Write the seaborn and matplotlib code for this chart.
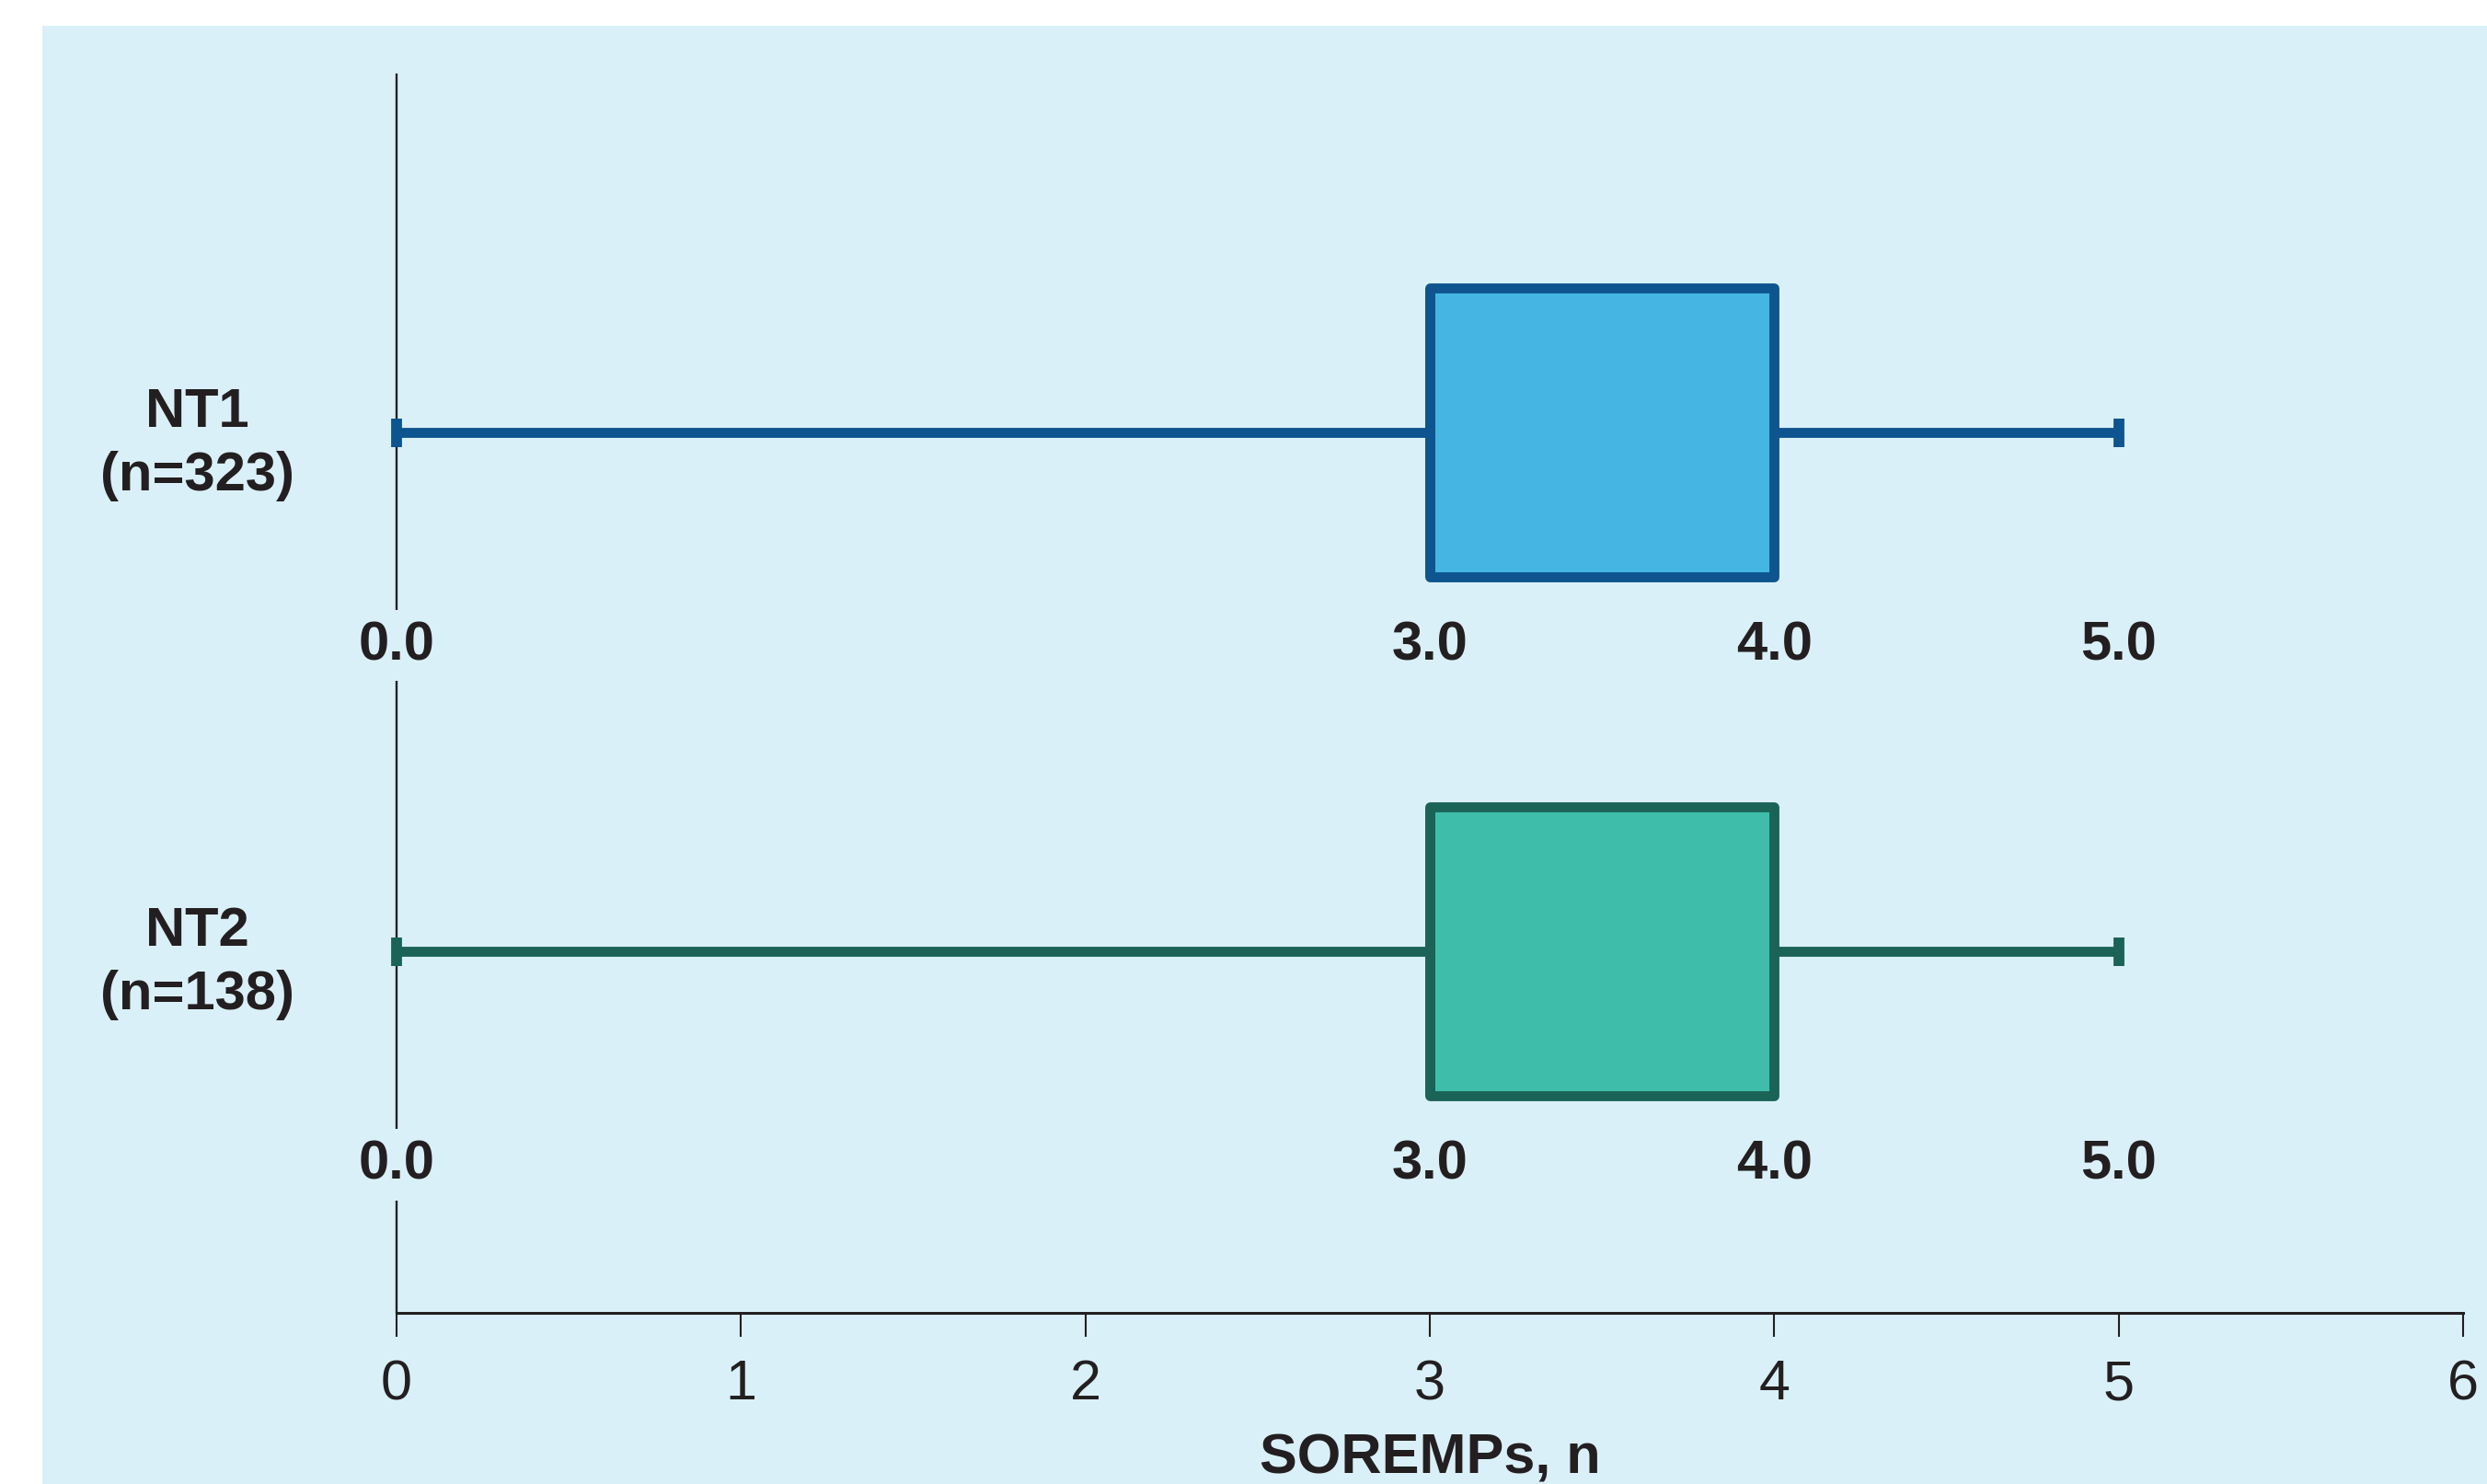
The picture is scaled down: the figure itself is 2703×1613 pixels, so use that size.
import pandas as pd
import matplotlib.pyplot as plt
import matplotlib.patches as mpatches
import seaborn as sns

# groups and SOREMP counts (five-number summary reproduced by small samples)
groups = ["NT1\n(n=323)", "NT2\n(n=138)"]
nt1_values = [0, 3, 3, 3, 4, 4, 5]
nt2_values = [0, 3, 3, 3, 4, 4, 5]
value_labels = [0.0, 3.0, 4.0, 5.0]
x_ticks = [0, 1, 2, 3, 4, 5, 6]

fill_colors = ["#45B6E4", "#3FBDAB"]
edge_colors = ["#0E548E", "#1A6356"]
bg_color = "#DAF0F8"
text_color = "#231F20"

sns.set_style("white")
plt.rcParams['font.family'] = ['Liberation Sans', 'DejaVu Sans']

df = pd.DataFrame({
    "group": [groups[0]] * len(nt1_values) + [groups[1]] * len(nt2_values),
    "sorempts": nt1_values + nt2_values,
})

fig = plt.figure(figsize=(27.03, 16.13), dpi=100)
fig.patch.set_facecolor("white")
fig.patches.append(mpatches.Rectangle((46 / 2703, 0), 1, 1 - 28 / 1613,
                                      transform=fig.transFigure,
                                      facecolor=bg_color, edgecolor="none",
                                      zorder=-5))
ax = fig.add_axes([431 / 2703, 1 - 1427 / 1613, (2677 - 431) / 2703,
                   (1427 - 81) / 1613])
ax.set_facecolor("none")
ax.set_zorder(2)

for i, g in enumerate(groups):
    sns.boxplot(data=df[df["group"] == g], x="sorempts", y="group", order=groups,
                orient="h", whis=(0, 100), width=0.557, saturation=1,
                color=fill_colors[i], linecolor=edge_colors[i], linewidth=7.8,
                capwidths=0.055, showfliers=False,
                boxprops=dict(joinstyle="round"),
                whiskerprops=dict(clip_on=False),
                capprops=dict(solid_capstyle="butt", linewidth=8.5, clip_on=False,
                              zorder=4),
                ax=ax)

# value annotations under each box
for i, g in enumerate(groups):
    for v in value_labels:
        ax.text(v, i + 0.41, f"{v:.1f}", ha="center", va="center",
                fontsize=43, fontweight="bold", color=text_color, zorder=5,
                bbox=dict(facecolor=bg_color, edgecolor="none", pad=8))

ax.set_xlim(0, 6)
ax.set_ylim(1.696, -0.69)
ax.set_xticks(x_ticks)
ax.set_xticklabels([str(t) for t in x_ticks])

sns.despine(ax=ax, top=True, right=True)
ax.spines["left"].set_linewidth(1.7)
ax.spines["left"].set_color(text_color)
ax.spines["bottom"].set_linewidth(2.2)
ax.spines["bottom"].set_color(text_color)

ax.tick_params(axis="x", direction="out", length=19, width=1.5, pad=17,
               labelsize=44, colors=text_color, bottom=True)
ax.tick_params(axis="y", length=0, pad=156, labelsize=43)
for lab in ax.get_yticklabels():
    lab.set_ha("center")
    lab.set_fontweight("bold")
    lab.set_color(text_color)
    lab.set_linespacing(1.32)

ax.set_ylabel("")
ax.set_xlabel("SOREMPs, n", fontsize=44, fontweight="bold", color=text_color,
              labelpad=17)

fig.savefig("out.png", dpi=100)
